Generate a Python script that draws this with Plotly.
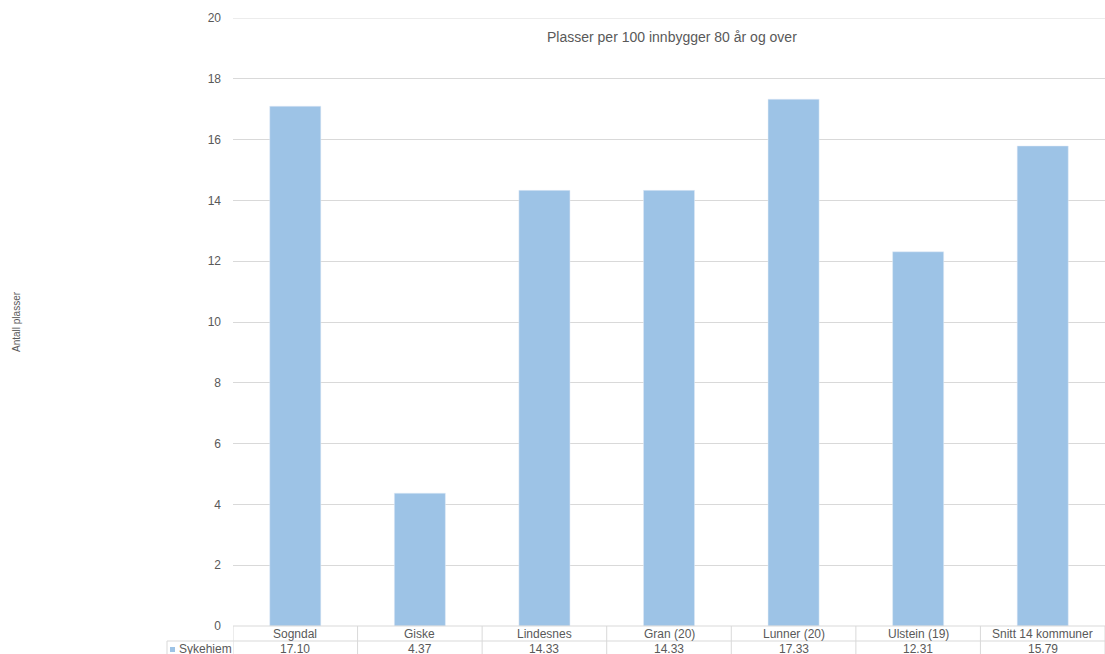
import plotly.graph_objects as go

# Plasser per 100 innbyggere 80 år og over (sykehjem)
kommuner = ["Sogndal", "Giske", "Lindesnes", "Gran (20)", "Lunner (20)",
            "Ulstein (19)", "Snitt 14 kommuner"]
sykehjem = [17.10, 4.37, 14.33, 14.33, 17.33, 12.31, 15.79]
serie_navn = "Sykehiem"
y_ticks = [0, 2, 4, 6, 8, 10, 12, 14, 16, 18, 20]

W, H = 1105, 654
ML, MR, MT, MB = 233, 0, 18, 28
PW = W - ML - MR
PH = H - MT - MB

BAR = "#9DC3E6"
GRID = "#D9D9D9"
TXT = "#595959"
FONT = "Liberation Sans, Arial, sans-serif"


def py(px):
    """pixel row -> paper y"""
    return (H - MB - px) / PH


def pxx(px):
    """pixel column -> paper x"""
    return (px - ML) / PW


fig = go.Figure(go.Bar(
    x=list(range(len(kommuner))), y=sykehjem, marker_color=BAR,
    width=0.41, showlegend=False, hoverinfo="x+y",
))

shapes = []
annotations = []

# top gridline (the range edge hides the regular one)
shapes.append(dict(type="line", xref="paper", yref="y", x0=0, x1=1,
                   y0=y_ticks[-1], y1=y_ticks[-1], line=dict(color=GRID, width=1)))

row1_top, row1_bot, row2_bot = 626, 641, 660
# horizontal table lines
shapes.append(dict(type="line", xref="paper", yref="paper", x0=0, x1=1,
                   y0=py(row1_top), y1=py(row1_top), line=dict(color=GRID, width=1)))
shapes.append(dict(type="line", xref="paper", yref="paper", x0=pxx(167), x1=1,
                   y0=py(row1_bot), y1=py(row1_bot), line=dict(color=GRID, width=1)))
# vertical table lines
shapes.append(dict(type="line", xref="paper", yref="paper", x0=pxx(167), x1=pxx(167),
                   y0=py(row1_bot), y1=py(row2_bot), line=dict(color=GRID, width=1)))
for i in range(len(kommuner) + 1):
    shapes.append(dict(type="line", xref="x", yref="paper", x0=i - 0.5, x1=i - 0.5,
                       y0=py(row1_top), y1=py(row2_bot), line=dict(color=GRID, width=1)))
# legend key
shapes.append(dict(type="rect", xref="paper", yref="paper", x0=pxx(170), x1=pxx(175),
                   y0=py(652), y1=py(647), fillcolor=BAR, line=dict(width=0)))


def label(text, x, y, xref="paper", xanchor="center", size=11, angle=0):
    return dict(x=x, y=y, xref=xref, yref="paper", text=text, showarrow=False,
                xanchor=xanchor, yanchor="middle", textangle=angle,
                font=dict(size=size, color=TXT, family=FONT))


for i, (k, v) in enumerate(zip(kommuner, sykehjem)):
    annotations.append(label(k, i, py(633.5), xref="x", size=12))
    annotations.append(label(f"{v:.2f}", i, py(649), xref="x", size=12))
annotations.append(label(serie_navn, pxx(177), py(649), xanchor="left", size=12))
annotations.append(label("Antall plasser", pxx(16), py(322), size=10, angle=-90))
annotations.append(label("Plasser per 100 innbygger 80 år og over", pxx(672), py(37), size=14))

fig.update_layout(
    width=W, height=H,
    margin=dict(l=ML, r=MR, t=MT, b=MB),
    paper_bgcolor="white", plot_bgcolor="white",
    font=dict(family=FONT, color=TXT, size=11),
    shapes=shapes, annotations=annotations,
    xaxis=dict(range=[-0.5, len(kommuner) - 0.5], showticklabels=False,
               showgrid=False, zeroline=False, showline=False, ticks=""),
    yaxis=dict(range=[0, 20], tickvals=y_ticks, showgrid=True, gridcolor=GRID,
               zeroline=False, showline=False, ticks="", ticklabelstandoff=11,
               tickfont=dict(size=12, color=TXT, family=FONT)),
    bargap=0.6,
)

fig.write_html("out.html")
